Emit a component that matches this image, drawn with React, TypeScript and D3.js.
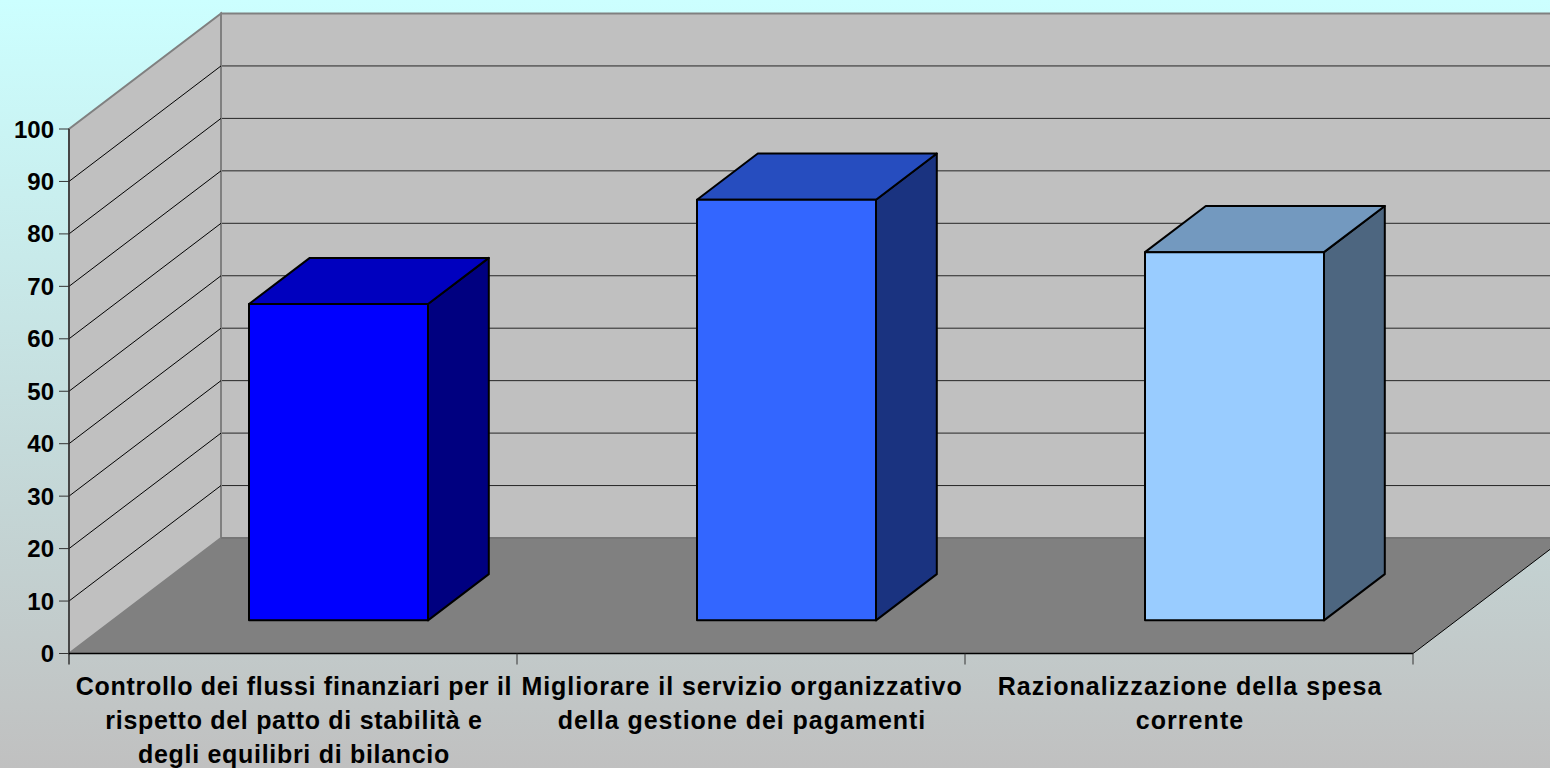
import React from "react";
import * as d3 from "d3";

const categories: string[][] = [
  ["Controllo dei flussi finanziari per il", "rispetto del patto di stabilità e", "degli equilibri di bilancio"],
  ["Migliorare il servizio organizzativo", "della gestione dei pagamenti"],
  ["Razionalizzazione della spesa", "corrente"],
];
const values = [60.3, 80.2, 70.2];
const barColors = ["#0000FF", "#3366FF", "#99CCFF"];
const yTicks = [0, 10, 20, 30, 40, 50, 60, 70, 80, 90, 100];

const W = 1550, H = 768;
const FONT = "'Liberation Sans', Arial, sans-serif";
const LABEL_SPACING = [0.7, 0.95, 1.05];

const y = d3.scaleLinear().domain([0, 100]).range([653.5, 129]);
const x = d3.scaleBand<number>().domain([0, 1, 2]).range([69, 1413]);
// oblique projection of the depth axis (0 = front, 1 = back)
const depth = d3.scaleLinear().domain([0, 1]);
const dx = depth.copy().range([0, 152]);
const dy = depth.copy().range([0, -115.5]);

const BAR_D0 = 0.287;
const BAR_D1 = 0.687;
const BAR_INSET = 180;
const BAR_W = 179;

const pts = (p: [number, number][]) => p.map((q) => q.join(",")).join(" ");
const shade = (c: string, f: number) => {
  const r = d3.rgb(c);
  return d3.rgb(r.r * f, r.g * f, r.b * f).formatHex();
};

export default function App() {
  const x0 = x.range()[0];
  const x1 = x.range()[1];
  const y0 = y(0);
  const yMax = y(100);
  const bx = dx(1);
  const by = dy(1);

  return (
    <svg width={W} height={H} viewBox={`0 0 ${W} ${H}`} style={{ position: "absolute", left: 0, top: 0 }}>
      <defs>
        <linearGradient id="bg" x1="0" y1="0" x2="0" y2="1">
          <stop offset="0" stopColor="#CCFFFF" />
          <stop offset="1" stopColor="#C0C0C0" />
        </linearGradient>
      </defs>
      <rect width={W} height={H} fill="url(#bg)" />

      {/* back wall */}
      <rect x={x0 + bx} y={yMax + by} width={W - x0 - bx + 2} height={y0 - yMax} fill="#C0C0C0" stroke="#808080" strokeWidth={2} />
      {/* side wall */}
      <polygon
        points={pts([[x0, y0], [x0, yMax], [x0 + bx, yMax + by], [x0 + bx, y0 + by]])}
        fill="#C0C0C0"
        stroke="#808080"
        strokeWidth={2}
      />
      {/* floor */}
      <polygon
        points={pts([[x0, y0], [x0 + bx, y0 + by], [x1 + bx, y0 + by], [x1, y0]])}
        fill="#808080"
      />
      <line x1={x0 + bx} x2={W} y1={y0 + by} y2={y0 + by} stroke="#737373" strokeWidth={1.5} />
      <line x1={x1} y1={y0} x2={x1 + bx} y2={y0 + by} stroke="#000" strokeWidth={1} />

      {/* gridlines */}
      {yTicks.filter((t) => t > 0 && t < 100).map((t) => (
        <g key={t}>
          <line x1={x0} y1={y(t)} x2={x0 + bx} y2={y(t) + by} stroke="#000" strokeWidth={1} />
          <line x1={x0 + bx + 1} x2={W} y1={y(t) + by} y2={y(t) + by} stroke="#262626" strokeWidth={1} />
        </g>
      ))}

      {/* bars */}
      {values.map((v, i) => {
        const left = (x(i) as number) + BAR_INSET;
        const right = left + BAR_W;
        const fy0 = y(0) + dy(BAR_D0);
        const fyTop = y(v) + dy(BAR_D0);
        const ox = dx(BAR_D1 - BAR_D0);
        const oy = dy(BAR_D1 - BAR_D0);
        const c = barColors[i];
        return (
          <g key={i} stroke="#000" strokeWidth={2} strokeLinejoin="round">
            <polygon
              points={pts([[right, fyTop], [right + ox, fyTop + oy], [right + ox, fy0 + oy], [right, fy0]])}
              fill={shade(c, 0.5)}
            />
            <polygon
              points={pts([[left, fyTop], [left + ox, fyTop + oy], [right + ox, fyTop + oy], [right, fyTop]])}
              fill={shade(c, 0.75)}
            />
            <rect x={left} y={fyTop} width={BAR_W} height={fy0 - fyTop} fill={c} />
          </g>
        );
      })}

      {/* axes */}
      <line x1={x0} x2={x0} y1={yMax} y2={y0 + 11} stroke="#333" strokeWidth={1.5} />
      <line x1={x0} x2={x1} y1={y0} y2={y0} stroke="#000" strokeWidth={1.5} />
      {yTicks.map((t) => (
        <g key={t}>
          <line x1={x0 - 10} x2={x0} y1={y(t)} y2={y(t)} stroke="#333" strokeWidth={1} />
          <text x={x0 - 15} y={y(t) + 8.5} textAnchor="end" fontFamily={FONT} fontWeight="bold" fontSize={24} fill="#000">
            {t}
          </text>
        </g>
      ))}
      {d3.range(1, 4).map((i) => {
        const tx = (x(0) as number) + x.step() * i;
        return <line key={i} x1={tx} x2={tx} y1={y0} y2={y0 + 11} stroke="#333" strokeWidth={1} />;
      })}

      {/* category labels */}
      {categories.map((lines, i) => (
        <text
          key={i}
          textAnchor="middle"
          fontFamily={FONT}
          fontWeight="bold"
          fontSize={25}
          letterSpacing={LABEL_SPACING[i]}
          fill="#000"
        >
          {lines.map((l, j) => (
            <tspan key={j} x={(x(i) as number) + x.bandwidth() / 2 + 1} y={695 + j * 34}>
              {l}
            </tspan>
          ))}
        </text>
      ))}
    </svg>
  );
}
